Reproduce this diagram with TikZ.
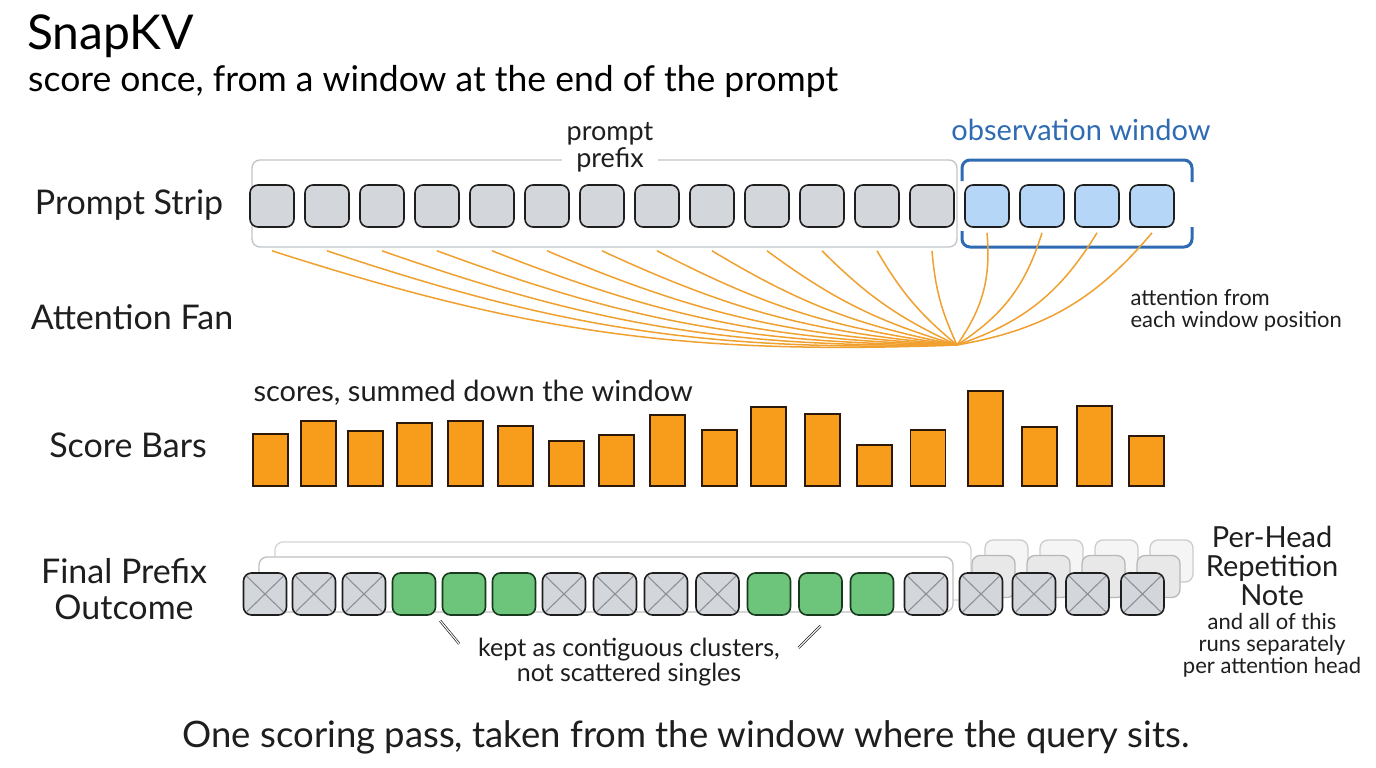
\documentclass[tikz,border=0pt]{standalone}
\usepackage{fontspec}
\setmainfont{Lato}
\usetikzlibrary{calc,positioning}

\definecolor{inkblack}{HTML}{1E1E1E}
\definecolor{cellgray}{HTML}{D3D6DB}
\definecolor{cellblue}{HTML}{B6D6F7}
\definecolor{winblue}{HTML}{2F6BB2}
\definecolor{fanorange}{HTML}{F0A02E}
\definecolor{barorange}{HTML}{F89C1C}
\definecolor{barline}{HTML}{2B1A0C}
\definecolor{keptgreen}{HTML}{6DC57C}
\definecolor{keptline}{HTML}{183A1E}
\definecolor{crossgray}{HTML}{8D9197}
\definecolor{bracketgray}{HTML}{C3C7CC}

\def\fsz#1{\fontsize{#1}{#1}\selectfont}

\tikzset{
	cell/.style={draw=inkblack, line width=1.6pt, rounded corners=8pt, minimum width=44pt, minimum height=42pt, inner sep=0pt},
	prefixcell/.style={cell, fill=cellgray},
	windowcell/.style={cell, fill=cellblue},
	outcell/.style={cell, minimum width=43pt},
	dropcell/.style={outcell, fill=cellgray},
	keptcell/.style={outcell, fill=keptgreen, draw=keptline},
	ghostnear/.style={outcell, draw=black!28, fill=black!9, line width=1.3pt},
	ghostfar/.style={outcell, draw=black!20, fill=black!4, line width=1.3pt},
	bar/.style={draw=barline, fill=barorange, line width=1.6pt, minimum width=35pt, inner sep=0pt, anchor=south},
	fan/.style={draw=fanorange, line width=1.5pt},
	rowlabel/.style={font=\fsz{34}, align=center, text=inkblack},
	midlabel/.style={font=\fsz{29}, align=center, text=inkblack},
	smalllabel/.style={font=\fsz{22}, align=center, text=inkblack},
	tick/.style={draw=inkblack, line width=0.7pt, double=white, double distance=1.1pt}
}

\begin{document}
\begin{tikzpicture}[x=1pt, y=-1pt]
			%%%%% START %%%%%
			\fill[white] (0,0) rectangle (1376,768);
			\useasboundingbox (0,0) rectangle (1376,768);

			\node[anchor=base west, font=\fsz{48}, inner sep=0pt] (title) at (27,50) {SnapKV};
			\node[anchor=base west, font=\fsz{35.5}, inner sep=0pt] (subtitle) at (28,92) {score once, from a window at the end of the prompt};

			\node[rowlabel] (lblStrip) at (129,205) {Prompt Strip};
			\node[rowlabel] (lblFan) at (132,317) {Attention Fan};
			\node[rowlabel] (lblBars) at (128,445) {Score Bars};
			\node[rowlabel, text depth=0pt] (lblOut) at (124,589) {Final Prefix\\[2pt]Outcome};

			% prompt strip
			\draw[bracketgray, line width=1.4pt, rounded corners=8pt] (252,160) rectangle (957,247);
			\draw[winblue, line width=3pt, rounded corners=8pt] (962,181) -- (962,160) -- (1192,160) -- (1192,182);
			\draw[winblue, line width=3pt, rounded corners=8pt] (962,231) -- (962,247) -- (1192,247) -- (1192,227);

			\foreach \i in {0,...,12}
				\node[prefixcell] (p\i) at (272+55*\i,206) {};
			\foreach \i in {13,...,16}
				\node[windowcell] (p\i) at (272+55*\i,206) {};

			\node[midlabel, font=\fsz{27}, fill=white, inner sep=5pt] (lblPrefix) at (610,147) {prompt\\prefix};
			\node[midlabel, text=winblue] (lblWindow) at (1081,130) {observation window};

			% attention fan
			\coordinate (focus) at (957,345);
			\foreach \i in {0,...,12}
				\draw[fan] ($(p\i.south)+(0,23)$) to[bend right=10] (focus);
			\foreach \i in {13,...,16}
				\draw[fan] ($(p\i.south)+(0,5)$) to[bend left=20] (focus);
			\node[smalllabel, align=left, anchor=west] (lblAttn) at (1127,310) {attention from\\each window position};

			% score bars
			\node[midlabel, anchor=west] (lblScores) at (250,393) {scores, summed down the window};
			\foreach \x/\h [count=\i] in {270.5/52, 318.5/65, 365.5/55, 414.5/63, 465.5/65, 515.5/60, 566.5/45, 616.5/51, 667.5/71,
					719.5/56, 768.5/79, 822.5/72, 874.5/41, 928/56, 985.5/95, 1039.5/59, 1094.5/80, 1146.5/50}
				\node[bar, minimum height=\h pt] (b\i) at (\x,487) {};

			% final prefix outcome, with the other heads behind it
			\draw[draw=black!17, fill=white, line width=1.3pt, rounded corners=8pt] (275,542) rectangle (971,600);
			\foreach \i in {0,...,3}
				\node[ghostfar] (gf\i) at (1006.5+55*\i,561) {};
			\draw[draw=black!25, fill=white, line width=1.3pt, rounded corners=8pt] (259,557) rectangle (953,612);
			\foreach \i in {0,...,3}
				\node[ghostnear] (gn\i) at (993.5+55*\i,576.5) {};

			\foreach \x/\s [count=\i from 0] in {265/dropcell, 314/dropcell, 364/dropcell, 414/keptcell, 464/keptcell, 514/keptcell,
					564/dropcell, 615/dropcell, 666/dropcell, 717.5/dropcell, 769/keptcell, 820.5/keptcell, 872/keptcell,
					926/dropcell, 981/dropcell, 1034/dropcell, 1087.5/dropcell, 1142.5/dropcell}
				\node[\s] (k\i) at (\x,594) {};
			\foreach \i in {0,1,2,6,7,8,9,13,14,15,16,17}{
				\draw[crossgray, line width=1.1pt] ($(k\i.north west)+(4,4)$) -- ($(k\i.south east)+(-4,-4)$);
				\draw[crossgray, line width=1.1pt] ($(k\i.north east)+(-4,4)$) -- ($(k\i.south west)+(4,-4)$);
			}

			\node[smalllabel, font=\fsz{25}] (lblKept) at (629,662) {kept as contiguous clusters,\\not scattered singles};
			\draw[tick] ($(k4.south west)+(-1.5,5)$) -- ++(19,23);
			\draw[tick] ($(k11.south)+(0,10)$) -- ++(-22,22);

			\node[midlabel] (lblHead) at (1272,566) {Per-Head\\Repetition\\Note};
			\node[smalllabel, below=0pt of lblHead] (lblHeadSub) {and all of this\\runs separately\\per attention head};

			\node[rowlabel, font=\fsz{36.5}] (caption) at (686,737) {One scoring pass, taken from the window where the query sits.};
			%%%%% END %%%%%
\end{tikzpicture}
\end{document}
